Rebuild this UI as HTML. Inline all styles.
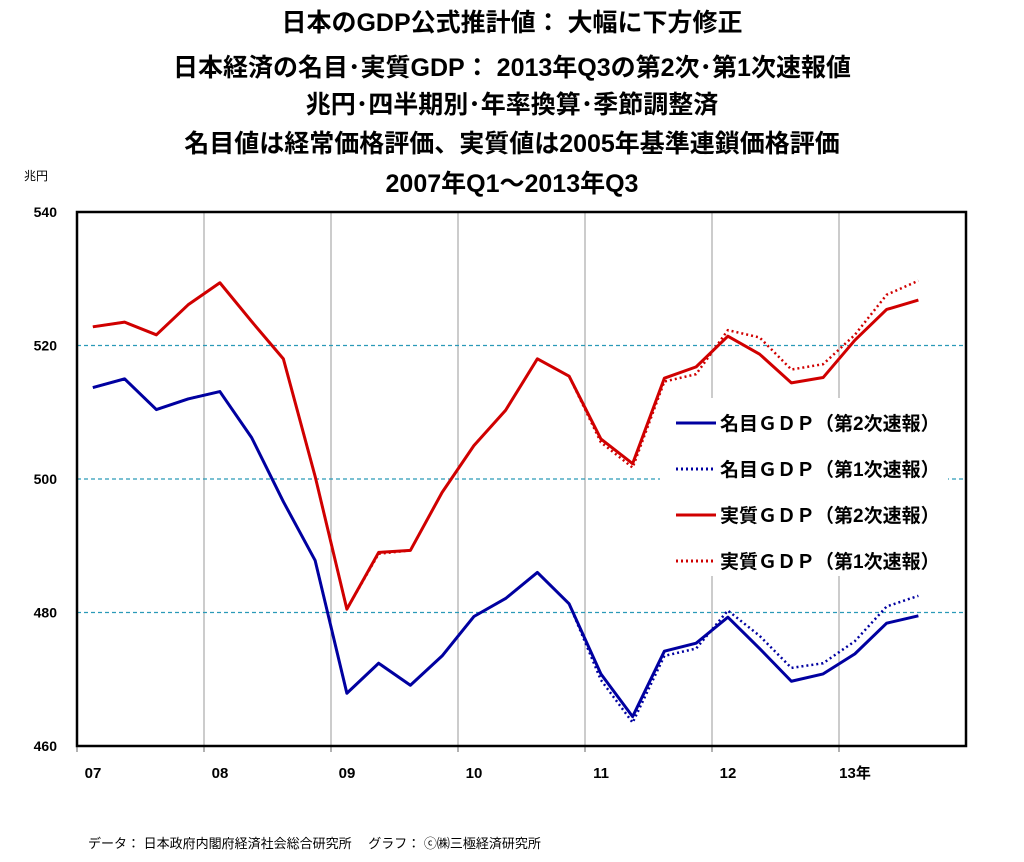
<!DOCTYPE html>
<html><head><meta charset="utf-8"><style>
body{margin:0;background:#fff;width:1024px;height:857px;overflow:hidden;font-family:"Liberation Sans","Noto Sans CJK JP",sans-serif;}
</style></head><body>
<svg id="c" width="1024" height="857" xmlns="http://www.w3.org/2000/svg" font-family="Liberation Sans, Noto Sans CJK JP, sans-serif">
<g font-weight="bold" font-size="25" text-anchor="middle" fill="#000">
<text x="512" y="31">日本のGDP公式推計値： 大幅に下方修正</text>
<text x="512" y="76">日本経済の名目･実質GDP： 2013年Q3の第2次･第1次速報値</text>
<text x="512" y="113">兆円･四半期別･年率換算･季節調整済</text>
<text x="512" y="152">名目値は経常価格評価、実質値は2005年基準連鎖価格評価</text>
<text x="512" y="192">2007年Q1～2013年Q3</text>
</g>
<text x="24" y="180" font-size="12">兆円</text>
<text x="88" y="848" font-size="13">データ： 日本政府内閣府経済社会総合研究所　 グラフ： ⓒ㈱三極経済研究所</text>
<g id="plot"></g>
</svg>
<script>
const yTicks=[460,480,500,520,540];
const xLabels=["07","08","09","10","11","12","13年"];
const nominal2=[513.7,515.0,510.4,512.0,513.1,506.2,496.6,487.8,467.9,472.4,469.1,473.5,479.4,482.1,486.0,481.3,470.8,464.4,474.2,475.4,479.3,474.6,469.7,470.8,473.8,478.4,479.5];
const nominal1=[513.7,515.0,510.4,512.0,513.1,506.2,496.6,487.8,467.9,472.4,469.1,473.5,479.4,482.1,486.0,481.3,469.9,463.5,473.5,474.6,480.3,476.5,471.7,472.4,475.7,480.9,482.5];
const real2=[522.8,523.5,521.6,526.1,529.4,523.6,518.0,500.4,480.5,489.0,489.3,498.0,505.0,510.3,518.0,515.4,506.0,502.3,515.1,516.8,521.4,518.7,514.4,515.2,520.8,525.4,526.8];
const real1=[522.8,523.5,521.6,526.1,529.4,523.6,518.0,500.4,480.5,488.8,489.3,498.0,505.0,510.3,518.0,515.4,505.5,501.7,514.6,515.7,522.3,521.2,516.4,517.2,521.6,527.6,529.7];
const L=77,R=966,T=212,B=746,Q=31.75;
const sx=i=>L+(i+0.5)*Q;
const sy=v=>T+(540-v)*(B-T)/80;
const ns="http://www.w3.org/2000/svg";
const g=document.getElementById('plot');
function mk(t,a){const e=document.createElementNS(ns,t);for(const k in a)e.setAttribute(k,a[k]);g.appendChild(e);return e;}
for(let y=1;y<7;y++){const e=mk('line',{x1:L+y*4*Q,x2:L+y*4*Q,y1:T,y2:B,stroke:'#999','stroke-width':1});

}
yTicks.forEach(v=>{
if(v>460&&v<540){const e=mk('line',{x1:L,x2:R,y1:sy(v),y2:sy(v),stroke:'#2a9ab8','stroke-width':1.2,'stroke-dasharray':'4,3'});

}
const t=mk('text',{x:57,y:sy(v)+5,'font-size':14,'font-weight':'bold','text-anchor':'end'});t.textContent=v;


});
xLabels.forEach((s,i)=>{const t=mk('text',{x:L+i*4*Q+16,y:778,'font-size':15,'font-weight':'bold','text-anchor':'middle'});t.textContent=s;


const k=mk('line',{x1:L+i*4*Q,x2:L+i*4*Q,y1:B,y2:B+6,stroke:'#666'});

});
function line(d,c,dash,name){const p=mk('polyline',{points:d.map((v,i)=>sx(i)+','+sy(v)).join(' '),fill:'none',stroke:c,'stroke-width':dash?2.5:3,'stroke-dasharray':dash?'2,3':'none','stroke-linejoin':'round'});

}
line(nominal1,'#0000a0',true,'nominal-gdp-1st-line');
line(real1,'#d00000',true,'real-gdp-1st-line');
line(nominal2,'#0000a0',false,'nominal-gdp-2nd-line');
line(real2,'#d00000',false,'real-gdp-2nd-line');
const fr=mk('rect',{x:L,y:T,width:R-L,height:B-T,fill:'none',stroke:'#000','stroke-width':2.5});


const lb=mk('rect',{x:660,y:398,width:288,height:178,fill:'#fff'});


const leg=[["名目ＧＤＰ（第2次速報）",'#0000a0',false],["名目ＧＤＰ（第1次速報）",'#0000a0',true],["実質ＧＤＰ（第2次速報）",'#d00000',false],["実質ＧＤＰ（第1次速報）",'#d00000',true]];
leg.forEach((r,i)=>{const y=423+i*46;
const l=mk('line',{x1:676,x2:716,y1:y,y2:y,stroke:r[1],'stroke-width':3,'stroke-dasharray':r[2]?'2,3':'none'});


const t=mk('text',{x:720,y:y+7,'font-size':19,'font-weight':'bold'});t.textContent=r[0];

});
</script>
</body></html>
